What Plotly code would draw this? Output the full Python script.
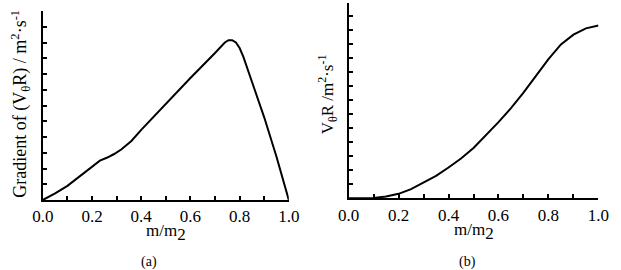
import plotly.graph_objects as go

# Panel (a): gradient of (V_theta R)
xa = [0, 0.05, 0.1, 0.15, 0.2, 0.232, 0.26, 0.29, 0.32, 0.36, 0.4, 0.5, 0.6, 0.7,
      0.72, 0.74, 0.755, 0.77, 0.785, 0.8, 0.815, 0.83, 0.845, 0.9, 0.95, 1.0]
ya = [0, 0.42, 0.9, 1.5, 2.12, 2.5, 2.68, 2.92, 3.22, 3.75, 4.45, 6.1, 7.75, 9.33,
      9.7, 10.0, 10.15, 10.15, 10.0, 9.65, 9.1, 8.4, 7.75, 5.25, 2.75, 0]

# Panel (b): V_theta R
xb = [0, 0.05, 0.1, 0.15, 0.2, 0.25, 0.3, 0.35, 0.4, 0.45, 0.5, 0.55, 0.6, 0.65,
      0.7, 0.75, 0.8, 0.85, 0.9, 0.95, 1.0]
yb = [0, 0.0, 0.03, 0.13, 0.32, 0.65, 1.1, 1.6, 2.2, 2.85, 3.6, 4.5, 5.45, 6.45,
      7.55, 8.75, 9.95, 11.0, 11.7, 12.15, 12.35]

xticks = [0.0, 0.2, 0.4, 0.6, 0.8, 1.0]
xticklabels = ["0.0", "0.2", "0.4", "0.6", "0.8", "1.0"]

FONT = "Liberation Serif"
W, H = 621, 270

fig = go.Figure()
fig.add_trace(go.Scatter(x=xa, y=ya, mode="lines",
                         line=dict(color="black", width=2),
                         xaxis="x", yaxis="y", showlegend=False))
fig.add_trace(go.Scatter(x=xb, y=yb, mode="lines",
                         line=dict(color="black", width=2),
                         xaxis="x2", yaxis="y2", showlegend=False))

def xax(domain, anchor):
    return dict(domain=domain, anchor=anchor, range=[0, 1], tickvals=xticks, ticktext=xticklabels,
                ticks="inside", ticklen=4, tickwidth=1.5, tickcolor="black",
                showline=True, linecolor="black", linewidth=2, showgrid=False, zeroline=False,
                tickfont=dict(family=FONT, size=17, color="black"),
                minor=dict(dtick=0.1, tick0=0, ticks="inside", ticklen=4, tickwidth=1.5, tickcolor="black"))

def yax(domain, anchor, top):
    return dict(domain=domain, anchor=anchor, range=[0, top], dtick=1, tick0=0,
                ticks="inside", ticklen=4, tickwidth=1.5, tickcolor="black",
                showticklabels=False, showline=True, linecolor="black", linewidth=2,
                showgrid=False, zeroline=False)

fig.update_layout(
    width=W, height=H, margin=dict(l=0, r=0, t=0, b=0),
    paper_bgcolor="white", plot_bgcolor="white",
    xaxis=xax([33 / W, 288 / W], "y"),
    yaxis=yax([(H - 200) / H, (H - 11) / H], "x", 12),
    xaxis2=xax([350 / W, 609 / W], "y2"),
    yaxis2=yax([(H - 198.3) / H, (H - 2.5) / H], "x2", 14),
    font=dict(family=FONT, color="black"),
)

sub2 = "m/m<sub><span style='font-size:17px'>2</span></sub>"
anns = [
    dict(x=160.5 / W, y=(H - 232) / H, text=sub2, font=dict(size=17)),
    dict(x=479.5 / W, y=(H - 231) / H, text=sub2, font=dict(size=17)),
    dict(x=143 / W, y=(H - 262) / H, text="(a)", font=dict(size=14)),
    dict(x=473 / W, y=(H - 262) / H, text="(b)", font=dict(size=14)),
    dict(x=9 / W, y=(H - 104) / H, text="Gradient of (V<sub>θ</sub>R) / m<sup>2</sup>·s<sup>-1</sup>",
         textangle=-90, font=dict(size=18)),
    dict(x=329 / W, y=(H - 94) / H, text="V<sub>θ</sub>R /m<sup>2</sup>·s<sup>-1</sup>",
         textangle=-90, font=dict(size=17)),
]
for a in anns:
    a.update(xref="paper", yref="paper", showarrow=False, xanchor="center", yanchor="middle")
    a["font"].update(family=FONT, color="black")
fig.update_layout(annotations=anns)

fig.write_html("out.html")
